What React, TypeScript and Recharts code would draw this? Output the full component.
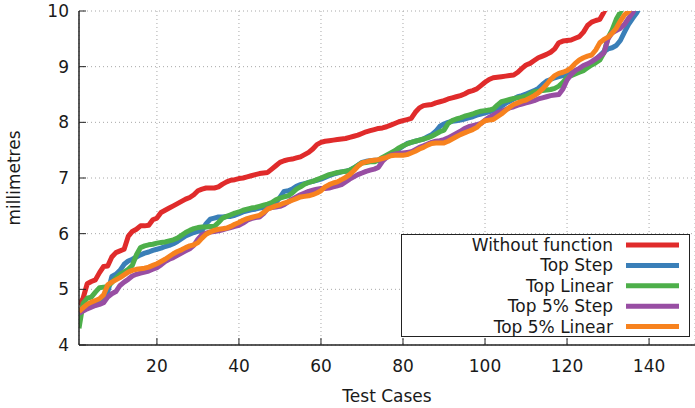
import React from 'react';
import { LineChart, Line, XAxis, YAxis, CartesianGrid, Legend } from 'recharts';

// Test case index (categories)
const testCases: number[] = Array.from({ length: 138 }, (_, i) => i + 1);

const xTicks = [20, 40, 60, 80, 100, 120, 140];
const yTicks = [4, 5, 6, 7, 8, 9, 10];

const withoutFunction = [
  4.72, 4.84, 5.10, 5.14, 5.17, 5.30, 5.41, 5.42, 5.58, 5.66,
  5.69, 5.72, 5.95, 6.04, 6.08, 6.14, 6.14, 6.15, 6.25, 6.28,
  6.38, 6.42, 6.46, 6.50, 6.54, 6.58, 6.62, 6.65, 6.70, 6.77,
  6.80, 6.82, 6.82, 6.82, 6.84, 6.89, 6.93, 6.96, 6.97, 6.99,
  7.00, 7.02, 7.04, 7.06, 7.08, 7.09, 7.10, 7.16, 7.22, 7.28,
  7.31, 7.33, 7.34, 7.36, 7.38, 7.42, 7.46, 7.52, 7.60, 7.64,
  7.66, 7.67, 7.68, 7.69, 7.70, 7.71, 7.73, 7.75, 7.77, 7.80,
  7.83, 7.85, 7.87, 7.89, 7.90, 7.92, 7.95, 7.98, 8.01, 8.03,
  8.05, 8.07, 8.18, 8.26, 8.30, 8.31, 8.32, 8.35, 8.37, 8.39,
  8.42, 8.44, 8.46, 8.48, 8.51, 8.55, 8.57, 8.60, 8.66, 8.72,
  8.77, 8.80, 8.81, 8.82, 8.83, 8.84, 8.85, 8.90, 8.97, 9.03,
  9.06, 9.11, 9.16, 9.19, 9.22, 9.26, 9.32, 9.43, 9.46, 9.47,
  9.48, 9.51, 9.54, 9.62, 9.74, 9.80, 9.83, 9.85, 9.98, 10.15,
  10.3, 10.45, 10.6, 10.8, 11.0, 11.3, 11.6, 11.9,
];

const topStep = [
  4.57, 4.62, 4.70, 4.74, 4.78, 4.81, 4.83, 4.95, 5.23, 5.27,
  5.34, 5.45, 5.51, 5.54, 5.58, 5.62, 5.65, 5.67, 5.70, 5.72,
  5.74, 5.77, 5.79, 5.82, 5.86, 5.91, 5.96, 5.99, 6.02, 6.04,
  6.06, 6.18, 6.26, 6.28, 6.30, 6.30, 6.31, 6.31, 6.33, 6.36,
  6.39, 6.41, 6.43, 6.44, 6.46, 6.47, 6.50, 6.53, 6.56, 6.65,
  6.76, 6.77, 6.80, 6.85, 6.88, 6.90, 6.92, 6.94, 6.96, 6.98,
  7.01, 7.04, 7.07, 7.09, 7.11, 7.12, 7.14, 7.18, 7.23, 7.28,
  7.30, 7.31, 7.32, 7.32, 7.33, 7.38, 7.43, 7.48, 7.52, 7.57,
  7.62, 7.64, 7.66, 7.68, 7.70, 7.74, 7.78, 7.84, 7.93, 7.97,
  8.00, 8.02, 8.03, 8.04, 8.06, 8.08, 8.10, 8.13, 8.15, 8.17,
  8.19, 8.21, 8.24, 8.29, 8.34, 8.38, 8.42, 8.46, 8.48, 8.51,
  8.54, 8.57, 8.61, 8.68, 8.74, 8.77, 8.80, 8.82, 8.84, 8.87,
  8.90, 8.92, 8.94, 8.98, 9.02, 9.07, 9.12, 9.20, 9.27, 9.32,
  9.34, 9.38, 9.47, 9.62, 9.76, 9.87, 9.97, 10.1,
];

const topLinear = [
  4.30, 4.75, 4.84, 4.86, 4.95, 5.03, 5.04, 5.05, 5.12, 5.20,
  5.27, 5.31, 5.36, 5.43, 5.62, 5.75, 5.78, 5.80, 5.81, 5.83,
  5.84, 5.85, 5.87, 5.89, 5.92, 5.97, 6.02, 6.06, 6.09, 6.11,
  6.12, 6.12, 6.13, 6.13, 6.20, 6.28, 6.31, 6.34, 6.37, 6.39,
  6.42, 6.44, 6.46, 6.47, 6.49, 6.51, 6.53, 6.56, 6.61, 6.64,
  6.66, 6.68, 6.73, 6.80, 6.84, 6.89, 6.92, 6.94, 6.97, 7.00,
  7.03, 7.06, 7.08, 7.10, 7.11, 7.12, 7.14, 7.18, 7.23, 7.27,
  7.28, 7.29, 7.29, 7.32, 7.37, 7.41, 7.45, 7.49, 7.54, 7.58,
  7.61, 7.64, 7.66, 7.68, 7.70, 7.72, 7.75, 7.79, 7.83, 7.86,
  7.98, 8.03, 8.06, 8.08, 8.11, 8.13, 8.15, 8.18, 8.20, 8.21,
  8.22, 8.24, 8.31, 8.37, 8.39, 8.41, 8.43, 8.44, 8.45, 8.47,
  8.51, 8.55, 8.56, 8.57, 8.58, 8.59, 8.61, 8.65, 8.72, 8.80,
  8.84, 8.87, 8.90, 8.93, 8.98, 9.03, 9.07, 9.12, 9.25, 9.52,
  9.66, 9.85, 9.98, 10.15, 10.3, 10.45, 10.6, 10.8,
];

const top5Step = [
  4.57, 4.61, 4.65, 4.68, 4.71, 4.73, 4.76, 4.86, 4.92, 4.96,
  5.07, 5.13, 5.18, 5.24, 5.27, 5.29, 5.31, 5.33, 5.36, 5.39,
  5.44, 5.50, 5.54, 5.57, 5.61, 5.65, 5.69, 5.73, 5.79, 5.90,
  5.98, 6.01, 6.03, 6.04, 6.05, 6.07, 6.09, 6.11, 6.13, 6.15,
  6.19, 6.24, 6.27, 6.29, 6.30, 6.36, 6.45, 6.47, 6.48, 6.49,
  6.52, 6.57, 6.62, 6.66, 6.70, 6.73, 6.76, 6.78, 6.80, 6.81,
  6.81, 6.82, 6.84, 6.86, 6.88, 6.93, 6.98, 7.02, 7.06, 7.09,
  7.12, 7.14, 7.16, 7.19, 7.30, 7.37, 7.41, 7.43, 7.44, 7.45,
  7.46, 7.47, 7.51, 7.55, 7.58, 7.61, 7.64, 7.66, 7.67, 7.69,
  7.72, 7.76, 7.80, 7.84, 7.89, 7.92, 7.94, 7.96, 7.98, 8.04,
  8.09, 8.13, 8.17, 8.20, 8.23, 8.26, 8.28, 8.31, 8.33, 8.35,
  8.37, 8.39, 8.42, 8.44, 8.46, 8.48, 8.49, 8.50, 8.60, 8.76,
  8.86, 8.93, 8.97, 9.02, 9.05, 9.09, 9.14, 9.19, 9.25, 9.50,
  9.61, 9.65, 9.69, 9.76, 9.87, 9.97, 10.1, 10.25,
];

const top5Linear = [
  4.60, 4.67, 4.73, 4.77, 4.80, 4.83, 4.90, 5.08, 5.13, 5.17,
  5.21, 5.26, 5.31, 5.34, 5.36, 5.37, 5.38, 5.40, 5.43, 5.46,
  5.50, 5.54, 5.59, 5.64, 5.68, 5.71, 5.75, 5.78, 5.80, 5.84,
  5.92, 5.99, 6.03, 6.06, 6.08, 6.09, 6.10, 6.13, 6.17, 6.20,
  6.24, 6.27, 6.29, 6.31, 6.33, 6.38, 6.44, 6.47, 6.50, 6.52,
  6.55, 6.57, 6.60, 6.63, 6.66, 6.67, 6.68, 6.70, 6.73, 6.77,
  6.84, 6.88, 6.91, 6.93, 6.97, 7.01, 7.06, 7.13, 7.21, 7.27,
  7.29, 7.31, 7.32, 7.33, 7.35, 7.37, 7.40, 7.41, 7.41, 7.41,
  7.42, 7.45, 7.48, 7.52, 7.55, 7.59, 7.62, 7.63, 7.63, 7.63,
  7.66, 7.70, 7.74, 7.78, 7.81, 7.84, 7.87, 7.91, 7.98, 8.03,
  8.04, 8.05, 8.10, 8.15, 8.21, 8.27, 8.32, 8.35, 8.38, 8.40,
  8.44, 8.48, 8.53, 8.60, 8.68, 8.77, 8.84, 8.88, 8.90, 8.93,
  8.98, 9.06, 9.12, 9.16, 9.19, 9.21, 9.30, 9.43, 9.49, 9.53,
  9.60, 9.69, 9.82, 9.93, 9.99, 10.1, 10.2, 10.35,
];

const seriesNames = ['Without function', 'Top Step', 'Top Linear', 'Top 5% Step', 'Top 5% Linear'];
const seriesKeys = ['wf', 'ts', 'tl', 't5s', 't5l'];
const seriesColors = ['#e02b2b', '#3a7fb8', '#4daf4a', '#984ea3', '#f7821e'];
const seriesValues = [withoutFunction, topStep, topLinear, top5Step, top5Linear];

const data = testCases.map((c, i) => {
  const row: Record<string, number> = { c };
  seriesKeys.forEach((k, s) => {
    row[k] = seriesValues[s][i];
  });
  return row;
});

const FONT = "'DejaVu Sans', Verdana, sans-serif";
const TEXT = '#1a1a1a';
const FS = 17;
const TICK_LEN = 7;
const LINE_W = 5;

const BottomTick = (props: any) => {
  const { x, y, payload } = props;
  return (
    <g>
      <line x1={x} x2={x} y1={y} y2={y - TICK_LEN} stroke="#222" strokeWidth={1} />
      <text x={x} y={y + 27} textAnchor="middle" fontFamily={FONT} fontSize={FS} fill={TEXT}>
        {payload.value}
      </text>
    </g>
  );
};

const TopTick = (props: any) => {
  const { x, y } = props;
  return <line x1={x} x2={x} y1={y} y2={y + TICK_LEN} stroke="#222" strokeWidth={1} />;
};

const LeftTick = (props: any) => {
  const { x, y, payload } = props;
  return (
    <g>
      <line x1={x} x2={x + TICK_LEN} y1={y} y2={y} stroke="#222" strokeWidth={1} />
      <text x={x - 10} y={y + 6} textAnchor="end" fontFamily={FONT} fontSize={FS} fill={TEXT}>
        {payload.value}
      </text>
    </g>
  );
};

const RightTick = (props: any) => {
  const { x, y } = props;
  return <line x1={x} x2={x - TICK_LEN} y1={y} y2={y} stroke="#222" strokeWidth={1} />;
};

const LegendBox = () => {
  const w = 289;
  const h = 103;
  return (
    <svg width={w} height={h} style={{ display: 'block' }}>
      <rect x={0.5} y={0.5} width={w - 1} height={h - 1} fill="#fff" stroke="#222" strokeWidth={1} />
      {seriesNames.map((name, i) => {
        const cy = 11 + i * 20.4;
        return (
          <g key={name}>
            <text x={212} y={cy + 6} textAnchor="end" fontFamily={FONT} fontSize={FS} fill={TEXT}>
              {name}
            </text>
            <line x1={225} x2={278} y1={cy} y2={cy} stroke={seriesColors[i]} strokeWidth={LINE_W} />
          </g>
        );
      })}
    </svg>
  );
};

export default function App() {
  return (
    <div style={{ position: 'absolute', left: 0, top: 0, width: 695, height: 408, background: '#fff' }}>
      <LineChart
        width={695}
        height={408}
        data={data}
        margin={{ top: 11, right: 0, bottom: 0, left: 0 }}
      >
        <CartesianGrid stroke="#a8a8a8" strokeDasharray="1 3" strokeWidth={1} />
        <XAxis
          dataKey="c"
          type="number"
          domain={[1, 151.2]}
          ticks={xTicks}
          height={63}
          tickSize={0}
          tickMargin={0}
          tickLine={false}
          tick={<BottomTick />}
          axisLine={{ stroke: '#222', strokeWidth: 1.5 }}
          allowDataOverflow
          label={(p: any) => {
            const vb = p.viewBox || {};
            return (
              <text
                x={(vb.x ?? 79) + (vb.width ?? 616) / 2}
                y={402}
                textAnchor="middle"
                fontFamily={FONT}
                fontSize={FS}
                fill={TEXT}
              >
                Test Cases
              </text>
            );
          }}
        />
        <XAxis
          xAxisId="top"
          dataKey="c"
          type="number"
          orientation="top"
          domain={[1, 151.2]}
          ticks={xTicks}
          height={0}
          tickSize={0}
          tickMargin={0}
          tickLine={false}
          tick={<TopTick />}
          axisLine={{ stroke: '#222', strokeWidth: 1.5 }}
          allowDataOverflow
        />
        <YAxis
          type="number"
          domain={[4, 10]}
          ticks={yTicks}
          width={79}
          tickSize={0}
          tickMargin={0}
          tickLine={false}
          tick={<LeftTick />}
          axisLine={{ stroke: '#222', strokeWidth: 1.5 }}
          allowDataOverflow
          label={() => (
            <text
              x={20}
              y={178}
              transform="rotate(-90 20 178)"
              textAnchor="middle"
              fontFamily={FONT}
              fontSize={FS}
              fill={TEXT}
            >
              millimetres
            </text>
          )}
        />
        <YAxis
          yAxisId="right"
          orientation="right"
          type="number"
          domain={[4, 10]}
          ticks={yTicks}
          width={0}
          tickSize={0}
          tickMargin={0}
          tickLine={false}
          tick={<RightTick />}
          axisLine={{ stroke: '#222', strokeWidth: 1.5 }}
          allowDataOverflow
        />
        {seriesKeys.map((k, i) => (
          <Line
            key={k}
            type="linear"
            dataKey={k}
            name={seriesNames[i]}
            stroke={seriesColors[i]}
            strokeWidth={LINE_W}
            strokeLinejoin="round"
            dot={false}
            activeDot={false}
            isAnimationActive={false}
          />
        ))}
        <Legend
          layout="vertical"
          align="center"
          verticalAlign="middle"
          content={() => <LegendBox />}
          wrapperStyle={{ position: 'absolute', left: 401, top: 234, width: 289, height: 103 }}
        />
      </LineChart>
    </div>
  );
}
